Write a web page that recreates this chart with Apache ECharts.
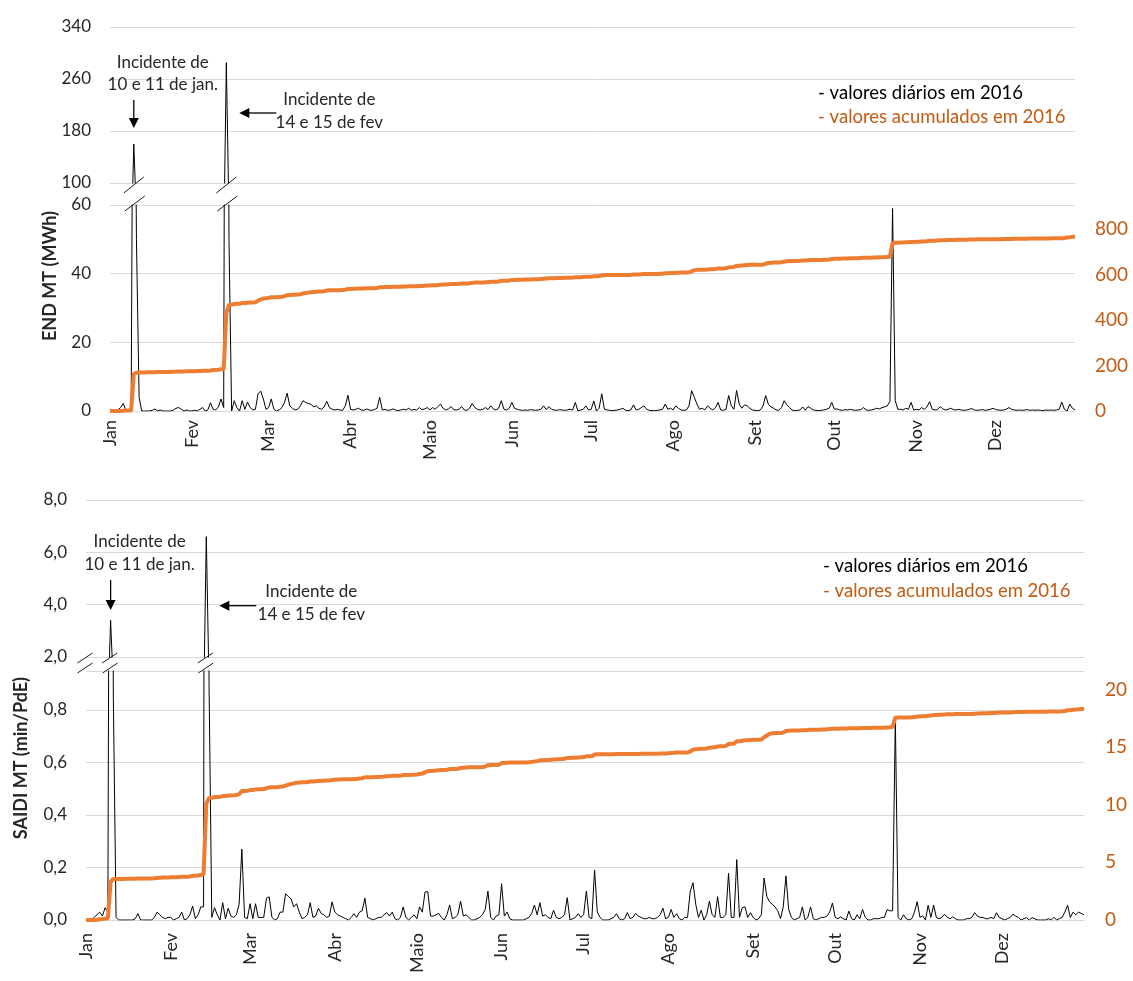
<!DOCTYPE html>
<html><head><meta charset="utf-8">
<script src="https://cdn.jsdelivr.net/npm/echarts@6/dist/echarts.min.js"></script>
<style>html,body{margin:0;padding:0;background:#fff}#c{width:1133px;height:981px}</style>
</head><body><div id="c"></div>
<script>
// ---------------- DATA ----------------
const months = ['Jan','Fev','Mar','Abr','Maio','Jun','Jul','Ago','Set','Out','Nov','Dez'];
const monthDays = [31,29,31,30,31,30,31,31,30,31,30,31];

// END MT (MWh) daily values, 2016
const endDaily = [
 0,0,0,0.3,1,2.2,0.3,0,0.5,160,50,4,0,0,0,0,0.2,0.6,0,0.3,0,0,0,0,0.3,0.8,1,0.5,0,0.3,0,
 0,0.2,0,0.5,1,0,0.3,2.4,0.5,0.3,1.2,3.5,1,285,50,0,3,1,0,3,0.5,2.6,1,0.3,0.5,5,5.8,3.5,0.5,
 1,3.5,0.5,0,0.3,1,2.5,5.2,1.5,0.8,0.3,0.5,1.5,3,2.5,2.2,2,1.2,1.5,0.8,0.5,1.2,2.8,1,0.5,0.3,0.5,0.3,0.2,1.5,4.6,
 0.5,0.3,0.5,0.8,0.3,0.2,0.6,0.3,0.2,0.4,0.8,4,0.3,0.5,0.2,0.3,0.6,0.3,0.1,0.3,0.5,0.3,0.8,0.2,0.5,0.3,1,0.4,0.6,1,
 0.3,1,0.5,1.3,2,0.8,0.3,0.6,1.3,0.4,0.3,0.5,1.3,0.3,0.2,0.8,2.2,1,0.5,0.3,0.5,1,0.4,1.5,0.6,0.3,0.8,3,0.5,0.3,0.8,
 2.5,0.8,0.5,0.3,0.2,0.3,0.2,0.4,0.3,0.2,0.3,0.5,1.5,0.4,1.3,0.5,0.3,0.2,0.4,0.3,0.2,0.3,0.5,0.3,2.5,0,0.3,0.5,1.5,0.3,
 0.5,2.9,0,0.8,5,0.5,0.3,0.2,0.1,0.2,0.3,0.5,0.8,0.2,0.1,0.3,1.8,0.3,0.5,1,1.5,0.5,0.2,0.1,0.1,0.2,0.3,0.5,2,0.5,0.8,
 0.3,1.5,0.8,0.3,0.2,0.3,1.5,5.9,4,2,0.5,0.8,0.3,1.5,0.8,0.3,1,2.5,0.3,0.2,0.5,4.5,1.5,0.5,6,2,0.8,1.8,1.5,0.8,0.3,
 0.2,0.1,0.3,1.5,4.5,2,1.2,0.8,0.3,0.2,1,3,1.8,1,0.3,0.1,0.2,0.3,1.2,0.2,1.3,0.8,0.3,0.2,0.1,0.2,0.3,0.5,0.8,2.5,
 0.5,0.6,0.3,0.2,0.4,0.3,0.5,0.3,0.2,0.3,0.4,1,0.3,0.2,0.3,0.5,0.8,0.6,1,1.2,1.5,2.8,59,3,0.5,0.5,0.3,0.8,0.5,2.5,0.3,
 0.5,0.3,1,0.5,1.2,2.7,0.5,0.3,0.4,1.3,0.6,0.3,0.5,0.8,0.4,0.3,0.5,0.3,0.2,0.3,0.5,0.7,0.3,0.2,0.3,0.4,0.2,0.3,0.5,0.8,
 0.4,0.3,0.2,0.3,0.5,1,0.5,0.3,0.2,0.3,0.2,0.3,0.4,0.2,0.3,0.2,0.3,0.2,0.1,0.3,0.2,0.3,0.2,0.3,0.5,2.6,0.5,0,2,0.8,0.3
];

// END MT (MWh) accumulated values, 2016
const endAccum = [
 0,0,0,0,0,1,2,2,2,162,168,169,169,169,170,170,170,170,171,171,171,171,171,172,172,173,174,174,174,175,175,
 175,175,176,176,177,177,177,178,180,180,181,183,184,430,466,467,470,471,471,474,474,476,477,477,478,484,490,494,495,
 496,500,500,500,501,502,504,509,510,511,511,512,513,516,518,520,522,523,524,525,525,526,529,530,530,531,531,531,532,533,536,
 536,537,537,538,538,538,539,539,539,539,540,544,544,545,545,545,546,546,546,546,547,547,548,548,548,548,549,549,550,551,
 551,552,552,553,555,556,556,557,558,558,558,559,560,560,560,561,563,564,564,564,565,566,566,568,568,568,569,572,572,572,573,
 576,576,577,577,577,578,578,578,579,579,579,580,581,582,583,583,583,584,584,584,585,585,585,586,588,588,588,589,590,590,
 590,592,592,593,596,596,597,597,597,597,597,598,598,598,598,598,600,600,600,601,602,602,602,602,602,602,603,603,605,605,606,
 606,607,607,608,608,608,609,614,618,620,620,621,621,622,623,623,624,626,626,626,627,631,632,633,637,638,639,640,641,642,642,
 642,642,642,643,647,650,651,652,652,652,653,656,658,659,659,659,659,660,661,661,662,663,663,663,663,663,664,664,665,668,
 669,669,669,670,670,670,671,671,671,671,672,673,673,673,673,674,674,675,675,676,677,678,737,739,739,740,740,741,741,743,743,
 744,744,745,745,746,748,748,748,749,750,750,750,751,751,751,752,752,752,752,752,753,753,753,754,754,754,754,755,755,755,
 755,755,755,756,756,756,756,757,757,757,757,757,757,758,758,758,758,758,758,758,758,759,759,759,759,759,760,762,763,765,766
];

// SAIDI MT (min/PdE) daily values, 2016
const saidiDaily = [
 0,0,0,0.01,0.02,0.03,0.015,0.047,0.03,3.4,0.85,0.01,0,0,0,0,0,0,0.005,0.024,0,0,0,0,0,0.01,0.03,0.02,0.01,0.005,0.01,
 0.01,0,0.005,0.01,0.03,0,0.005,0.02,0.053,0.005,0.02,0.05,0.05,6.6,0.9,0.01,0.047,0.02,0,0.066,0.005,0.045,0.015,0.01,0.02,0.06,0.27,0.01,0.005,
 0.062,0.005,0.062,0.01,0.01,0.01,0.083,0.088,0.01,0,0.005,0.03,0.03,0.1,0.09,0.08,0.05,0.062,0.03,0.005,0.01,0.02,0.066,0.01,0.015,0.045,0.025,0.02,0.01,0.015,0.069,
 0.03,0.02,0.015,0.01,0.005,0,0.01,0.024,0.01,0.03,0.035,0.083,0.01,0.005,0,0.005,0.01,0.01,0.02,0.028,0.015,0.03,0.005,0,0.01,0.05,0.01,0,0.01,0.02,
 0.005,0.05,0.03,0.107,0.108,0.015,0.015,0.02,0.025,0.01,0,0.02,0.057,0.005,0.01,0.02,0.072,0.015,0.02,0.01,0,0,0.005,0.01,0.02,0.04,0.11,0.01,0,0.015,0.02,
 0.138,0.015,0.03,0.005,0,0,0,0,0,0.005,0.01,0.025,0.057,0.02,0.066,0.015,0.02,0.01,0.005,0.037,0.01,0.005,0.01,0.02,0.085,0,0.005,0.01,0.024,0.01,
 0.02,0.11,0.01,0.005,0.19,0.03,0.01,0,0,0,0.005,0.01,0.024,0.005,0,0.005,0.028,0.005,0.01,0.025,0.015,0.01,0.005,0.005,0.01,0.005,0.005,0.01,0.02,0.045,0.005,
 0.01,0.04,0.01,0.024,0.005,0,0.01,0.01,0.11,0.142,0.06,0.01,0.037,0,0.02,0.072,0.02,0.01,0.089,0.01,0.01,0.02,0.178,0.01,0.01,0.23,0.01,0.047,0.05,0.01,0.028,
 0.01,0,0.005,0.02,0.16,0.09,0.069,0.06,0.05,0.035,0.005,0.05,0.168,0.04,0.01,0,0.005,0.01,0.05,0,0.01,0.05,0.005,0,0.005,0.01,0.01,0.015,0.03,0.065,
 0.01,0.005,0.012,0.005,0,0.034,0.005,0,0.02,0.005,0.04,0.01,0,0,0.005,0.005,0.005,0.01,0.01,0.04,0.035,0.035,0.77,0.01,0,0.02,0.005,0,0.005,0.03,0.07,
 0.01,0.016,0,0.056,0.01,0.057,0.01,0.005,0.01,0.022,0.01,0.005,0.012,0.005,0,0,0,0.005,0.005,0.01,0.028,0.015,0.01,0.01,0.005,0.005,0.01,0.005,0.028,0.01,
 0.005,0,0.005,0.01,0.022,0.015,0.01,0,0.005,0.009,0,0.009,0.005,0,0,0,0,0.005,0,0.01,0,0.005,0.01,0.03,0.056,0.01,0.03,0.02,0.03,0.025,0.02
];

// SAIDI MT (min/PdE) accumulated values, 2016
const saidiAccum = [
 0,0,0,0.01,0.03,0.06,0.08,0.12,0.15,3.3,3.56,3.56,3.56,3.56,3.56,3.57,3.57,3.57,3.58,3.6,3.6,3.6,3.6,3.6,3.61,3.62,3.65,3.67,3.68,3.68,3.69,
 3.7,3.7,3.71,3.72,3.75,3.75,3.76,3.78,3.83,3.84,3.86,3.91,3.96,10.1,10.6,10.61,10.66,10.68,10.68,10.75,10.75,10.8,10.81,10.82,10.84,10.9,11.2,11.2,11.21,
 11.27,11.28,11.33,11.34,11.35,11.36,11.43,11.5,11.51,11.51,11.52,11.55,11.58,11.66,11.74,11.8,11.85,11.9,11.93,11.94,11.95,11.97,12.01,12.02,12.04,12.06,12.08,12.09,12.1,12.11,12.14,
 12.16,12.18,12.19,12.2,12.2,12.2,12.21,12.23,12.24,12.27,12.3,12.38,12.39,12.39,12.39,12.4,12.41,12.42,12.44,12.47,12.48,12.51,12.51,12.51,12.52,12.57,12.58,12.58,12.59,12.61,
 12.62,12.67,12.7,12.81,12.92,12.93,12.95,12.97,13.0,13.01,13.01,13.03,13.09,13.09,13.1,13.12,13.19,13.21,13.23,13.24,13.24,13.24,13.25,13.26,13.28,13.32,13.43,13.44,13.44,13.45,13.47,
 13.61,13.62,13.65,13.66,13.66,13.66,13.66,13.66,13.66,13.67,13.68,13.7,13.76,13.78,13.85,13.86,13.88,13.89,13.9,13.93,13.94,13.95,13.96,13.98,14.06,14.06,14.07,14.08,14.1,14.11,
 14.13,14.2,14.21,14.21,14.36,14.37,14.37,14.37,14.37,14.37,14.37,14.38,14.39,14.39,14.39,14.39,14.4,14.4,14.4,14.41,14.41,14.42,14.42,14.42,14.42,14.42,14.43,14.43,14.44,14.45,14.45,
 14.46,14.49,14.5,14.52,14.52,14.52,14.53,14.54,14.62,14.77,14.82,14.83,14.86,14.86,14.88,14.95,14.97,14.98,15.06,15.07,15.08,15.1,15.27,15.28,15.29,15.5,15.51,15.55,15.59,15.6,15.62,
 15.63,15.63,15.64,15.66,15.85,16.0,16.15,16.2,16.22,16.23,16.23,16.25,16.4,16.42,16.43,16.43,16.43,16.44,16.47,16.47,16.48,16.5,16.5,16.5,16.51,16.52,16.53,16.54,16.56,16.6,
 16.6,16.6,16.61,16.61,16.61,16.63,16.63,16.63,16.64,16.64,16.66,16.66,16.66,16.66,16.67,16.67,16.67,16.68,16.68,16.7,16.72,16.75,17.55,17.56,17.56,17.57,17.57,17.57,17.58,17.6,17.65,
 17.66,17.67,17.67,17.72,17.73,17.78,17.79,17.8,17.81,17.83,17.84,17.84,17.85,17.86,17.86,17.86,17.86,17.87,17.87,17.88,17.9,17.91,17.92,17.93,17.94,17.94,17.95,17.96,17.98,17.99,
 18.0,18.0,18.0,18.01,18.03,18.04,18.05,18.05,18.05,18.06,18.06,18.07,18.07,18.07,18.07,18.07,18.07,18.08,18.08,18.09,18.09,18.09,18.1,18.13,18.19,18.2,18.23,18.25,18.28,18.3,18.32
];

// axis tick settings
const endUpperTicks = {min:100, max:340, interval:80};
const endLowerTicks = {min:0, max:60, interval:20};
const endAccumTicks = {min:0, max:905, interval:200};
const saidiUpperTicks = {min:2, max:8, interval:2};
const saidiLowerTicks = {min:0, max:0.9486, interval:0.2};
const saidiAccumTicks = {min:0, max:21.6, interval:5};

const legendDaily = '- valores diários em 2016';
const legendAccum = '- valores acumulados em 2016';
const noteJan = 'Incidente de\n10 e 11 de jan.';
const noteFev = 'Incidente de\n14 e 15 de fev';

// ---------------- CHART ----------------
const FONT = 'Lato';
const GRIDC = '#d9d9d9';
const TXT = '#262626';
const ORANGE = '#ed7d31';
const ORANGE_TXT = '#c55a11';

const days = []; const monthStart = {};
monthDays.forEach((n, m) => { monthStart[days.length] = months[m]; for (let d = 1; d <= n; d++) days.push(d + '/' + (m + 1)); });

const chart = echarts.init(document.getElementById('c'), null, {renderer: 'canvas'});

function xAx(gridIndex, showLabels, margin) {
  return {
    type: 'category', gridIndex, data: days, boundaryGap: false,
    axisLine: {show: true, lineStyle: {color: GRIDC, width: 1}},
    axisTick: {show: false}, splitLine: {show: false},
    axisLabel: showLabels ? {
      show: true, rotate: 90, margin,
      interval: (i) => monthStart[i] !== undefined,
      formatter: (v, i) => monthStart[i] || '',
      fontFamily: FONT, fontSize: 18, color: TXT
    } : {show: false}
  };
}
function yAx(gridIndex, t, opts) {
  return Object.assign({
    type: 'value', gridIndex, min: t.min, max: t.max, interval: t.interval,
    axisLine: {show: false}, axisTick: {show: false},
    splitLine: {show: true, lineStyle: {color: GRIDC, width: 1}},
    axisLabel: {fontFamily: FONT, fontSize: 17, color: TXT, margin: 19}
  }, opts || {});
}
const comma = v => v.toFixed(1).replace('.', ',');
function lineS(xi, yi, data, color, width, z) {
  return {type: 'line', xAxisIndex: xi, yAxisIndex: yi, data, symbol: 'none', showSymbol: false,
    clip: true, silent: true, z, lineStyle: {color, width}, itemStyle: {color}};
}

const option = {
  animation: false,
  backgroundColor: '#fff',
  grid: [
    {left: 110, right: 58, top: 27, height: 156, outerBoundsMode: 'none'},
    {left: 110, right: 58, top: 205, height: 206, outerBoundsMode: 'none'},
    {left: 86, right: 49, top: 500, height: 157, outerBoundsMode: 'none'},
    {left: 86, right: 49, top: 671, height: 249, outerBoundsMode: 'none'}
  ],
  xAxis: [
    xAx(0, false), xAx(1, true, 9), xAx(2, false), xAx(3, true, 13)
  ],
  yAxis: [
    yAx(0, endUpperTicks),
    yAx(1, endLowerTicks),
    yAx(1, endAccumTicks, {position: 'right', splitLine: {show: false},
      axisLabel: {fontFamily: FONT, fontSize: 19, color: ORANGE_TXT, margin: 20, showMaxLabel: false}}),
    yAx(2, saidiUpperTicks, {axisLabel: {fontFamily: FONT, fontSize: 17, color: TXT, margin: 19, formatter: comma}}),
    yAx(3, saidiLowerTicks, {axisLabel: {fontFamily: FONT, fontSize: 17, color: TXT, margin: 19, formatter: comma, showMaxLabel: false}}),
    yAx(3, saidiAccumTicks, {position: 'right', splitLine: {show: false},
      axisLabel: {fontFamily: FONT, fontSize: 19, color: ORANGE_TXT, margin: 21, showMaxLabel: false}})
  ],
  series: [
    lineS(0, 0, endDaily, '#000', 1, 2),
    lineS(1, 1, endDaily, '#000', 1, 2),
    lineS(1, 2, endAccum, ORANGE, 4, 3),
    lineS(2, 3, saidiDaily, '#000', 1, 2),
    lineS(3, 4, saidiDaily, '#000', 1, 2),
    lineS(3, 5, saidiAccum, ORANGE, 4, 3)
  ]
};
chart.setOption(option);

// ---------------- DECORATIONS (break marks, notes, legend) ----------------
const xPx = (xi, i) => chart.convertToPixel({xAxisIndex: xi}, i);
const yPx = (yi, v) => chart.convertToPixel({yAxisIndex: yi}, v);
const endSpikes = endDaily.map((v, i) => v > endLowerTicks.max ? i : -1).filter(i => i >= 0);
const saidiSpikes = saidiDaily.map((v, i) => v > saidiLowerTicks.max ? i : -1).filter(i => i >= 0);

const G = [];
function slash(cx, cy, w, h) {
  G.push({type: 'line', z: 100, shape: {x1: cx - w / 2, y1: cy + h / 2, x2: cx + w / 2, y2: cy - h / 2},
    style: {stroke: '#1a1a1a', lineWidth: 1}});
}
function arrowDown(x, y1, y2) {
  G.push({type: 'line', z: 100, shape: {x1: x, y1: y1, x2: x, y2: y2 - 8}, style: {stroke: '#000', lineWidth: 1.3}});
  G.push({type: 'polygon', z: 100, shape: {points: [[x - 5, y2 - 10], [x + 5, y2 - 10], [x, y2]]}, style: {fill: '#000'}});
}
function arrowLeft(x1, x2, y) {
  G.push({type: 'line', z: 100, shape: {x1: x1, y1: y, x2: x2 + 8, y2: y}, style: {stroke: '#000', lineWidth: 1.3}});
  G.push({type: 'polygon', z: 100, shape: {points: [[x2 + 10, y - 5], [x2 + 10, y + 5], [x2, y]]}, style: {fill: '#000'}});
}
function text(x, y, s, color, align, size, weight, rot, lh) {
  G.push({type: 'text', z: 100, x, y, rotation: rot || 0,
    style: {text: s, fill: color, font: (weight || 'normal') + ' ' + size + 'px ' + FONT,
      textAlign: align, textVerticalAlign: 'middle', lineHeight: lh || size + 5}});
}

// top chart
const tBrkA = yPx(0, endUpperTicks.min), tBrkB = yPx(1, endLowerTicks.max);
endSpikes.forEach(i => { const x = xPx(1, i); slash(x, tBrkA + 2, 20, 16); slash(x + 1, tBrkB - 1.5, 20, 15); });
const tj = xPx(1, endSpikes[0]), tf = xPx(1, endSpikes[1]);
text(tj + 29, 74, noteJan, TXT, 'center', 17, 'normal', 0, 22);
arrowDown(tj, 100, 128);
text(tf + 103, 111.5, noteFev, TXT, 'center', 17, 'normal', 0, 23);
arrowLeft(tf + 50, tf + 13, 113);
text(818, 93, legendDaily, '#000', 'left', 18.5);
text(818, 117, legendAccum, ORANGE_TXT, 'left', 18.5);
text(50, 211, 'END MT (MWh)', TXT, 'right', 18, 'bold', Math.PI / 2);

// bottom chart
const bBrkA = yPx(3, saidiUpperTicks.min), bBrkB = yPx(4, saidiLowerTicks.max);
const bLeft = xPx(3, 0);
slash(bLeft - 1, bBrkA + 1, 15, 10); slash(bLeft - 1, bBrkB - 3, 15, 10);
saidiSpikes.forEach(i => { const x = xPx(3, i); slash(x - 1, bBrkA + 1, 15, 10); slash(x - 0.5, bBrkB - 3, 15, 10); });
const bj = xPx(3, saidiSpikes[0]), bf = xPx(3, saidiSpikes[1]);
text(bj + 29, 553, noteJan, TXT, 'center', 17, 'normal', 0, 23);
arrowDown(bj, 580, 610);
text(bf + 105, 603.5, noteFev, TXT, 'center', 17, 'normal', 0, 23);
arrowLeft(bf + 50, bf + 13, 605.7);
text(823, 566, legendDaily, '#000', 'left', 18.5);
text(823, 591, legendAccum, ORANGE_TXT, 'left', 18.5);
text(21, 677, 'SAIDI MT (min/PdE)', TXT, 'right', 18, 'bold', Math.PI / 2);

// sanity check of data lengths
[endDaily, endAccum, saidiDaily, saidiAccum].forEach((a, k) => {
  if (a.length !== days.length) text(400, 460 + k * 20, 'len ' + k + ': ' + a.length, 'red', 'left', 14);
});

chart.setOption({graphic: G});
</script>
</body></html>
